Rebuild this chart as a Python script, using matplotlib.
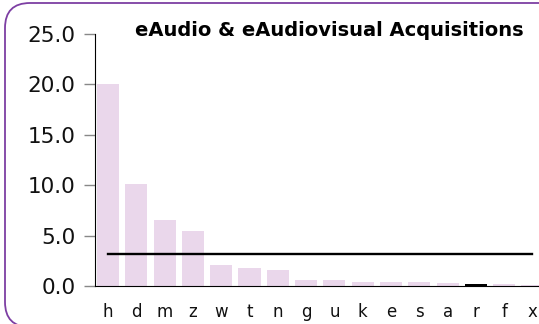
import matplotlib
matplotlib.use("Agg")
from matplotlib import pyplot as plt
from matplotlib.patches import FancyBboxPatch
import numpy as np

letters = ["h", "d", "m", "z", "w", "t", "n", "g", "u", "k", "e", "s", "a", "r", "f", "x"]
waarden = [20.0, 10.1, 6.5, 5.5, 2.1, 1.8, 1.6, 0.6, 0.6, 0.4, 0.4, 0.4, 0.3, 0.2, 0.15, 0.1]
gemiddelde = 3.15
zwart = ["r"]  # deze balk is zwart
y_ticks = [0, 5, 10, 15, 20, 25]

fig = plt.figure(figsize=(5.39, 3.24), dpi=100)

# afgeronde rand in pixels (rechts en onder loopt hij buiten beeld)
rand = FancyBboxPatch((5, -3), 570, 324, boxstyle="round,pad=0,rounding_size=25",
                      fc="none", ec="#7d3fa3", lw=1.3, transform=None)
fig.add_artist(rand)

ax = fig.add_axes([95 / 539, 38 / 324, 1 - 95 / 539, 252 / 324])
x = np.arange(len(letters))
kleuren = ["black" if l in zwart else "#ead7eb" for l in letters]
ax.bar(x, waarden, width=0.78, color=kleuren)
ax.plot([x[0], x[-1]], [gemiddelde, gemiddelde], color="black", lw=1.7)

ax.set_xlim(-0.46, 15.23)
ax.set_ylim(0, 25)
ax.set_yticks(y_ticks)
ax.set_yticklabels(["%.1f" % v for v in y_ticks], fontsize=15.5, color="#111111")
ax.set_xticks(x)
ax.set_xticklabels(letters, fontsize=12, color="#111111")
ax.tick_params(axis="y", length=8, color="#888888", width=1, pad=6)
ax.tick_params(axis="x", length=0, pad=12)
ax.spines["top"].set_visible(False)
ax.spines["right"].set_visible(False)
ax.patch.set_alpha(0)

fig.text(329 / 539, 1 - 30 / 324, "eAudio & eAudiovisual Acquisitions", ha="center", va="center",
         fontsize=14, fontweight="bold")

fig.savefig("out.png", dpi=100)
